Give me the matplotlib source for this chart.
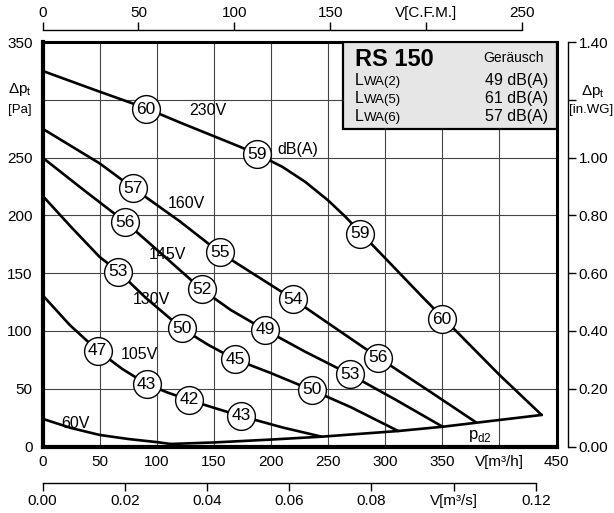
import matplotlib
matplotlib.use('Agg')
import matplotlib.pyplot as plt
from matplotlib.patches import Rectangle

plt.rcParams['font.family'] = ['Liberation Sans', 'DejaVu Sans']
plt.rcParams['mathtext.fontset'] = 'custom'
plt.rcParams['mathtext.rm'] = 'Liberation Sans'

# Kennlinien (V in m3/h, dp in Pa)
v_230 = [0, 25, 50, 70, 91, 120, 150, 170, 188, 210, 230, 250, 265, 278, 300, 333, 350, 400, 437]
p_230 = [325, 316, 307, 300, 292.5, 280.5, 268.5, 260.5, 253, 242, 229, 213, 199, 185.5, 163, 129, 112, 62, 27.3]
v_160 = [0, 50, 79.5, 120, 155, 190, 219.5, 260, 294, 340, 380]
p_160 = [275, 245, 223.5, 195, 168, 146, 127.5, 100, 77, 47, 20.6]
v_145 = [0, 36, 72.8, 105, 139.3, 165, 194.7, 230, 269, 310, 350.3]
p_145 = [250, 222, 194, 166, 136, 118, 101, 82, 62.5, 40, 17.1]
v_130 = [0, 25, 50, 66.4, 90, 121.8, 145, 168.5, 200, 235.6, 270, 311.4]
p_130 = [217, 190, 164, 151.5, 129, 102.3, 88, 75.5, 63.5, 48.9, 34, 13.4]
v_105 = [0, 24, 48.3, 70, 91.2, 110, 128.2, 150, 173.7, 210, 244.4]
p_105 = [131, 105, 83, 67, 54, 46.5, 40.3, 33.5, 26.4, 16.5, 8.5]
v_60 = [0, 25, 50, 75, 100, 112]
p_60 = [24, 16, 10, 6.5, 3.8, 2.2]
v_pd2 = [112, 150, 200, 244.4, 311.4, 350.3, 380, 437]
p_pd2 = [2.2, 3.5, 6, 8.5, 13.4, 17.1, 20.6, 27.3]

# Schallpegel-Kreise dB(A)
db_x = [90.6, 188, 278, 349.6, 79.5, 155.4, 219.5, 294, 72.5, 139.3, 194.7, 269,
        66.4, 121.8, 168.5, 235.6, 48.3, 91.2, 128.2, 173.7]
db_y = [292, 253, 184, 110, 223.5, 168, 127.4, 77, 194, 136, 101, 62.5,
        151.3, 102.3, 75.5, 48.9, 83, 54, 40.3, 26.4]
db_txt = ['60', '59', '59', '60', '57', '55', '54', '56', '56', '52', '49', '53',
          '53', '50', '45', '50', '47', '43', '42', '43']

volt_txt = ['230V', '160V', '145V', '130V', '105V', '60V']
volt_x = [145, 126, 109.4, 95.6, 84.6, 28.7]
volt_y = [291, 210, 166, 127.5, 80, 19.5]

lwa_names = ['(2)', '(5)', '(6)']
lwa_vals = ['49 dB(A)', '61 dB(A)', '57 dB(A)']

x_ticks = [0, 50, 100, 150, 200, 250, 300, 350, 400, 450]
x_labels = ['0', '50', '100', '150', '200', '250', '300', '350', 'V[m³/h]', '450']
y_ticks = [0, 50, 100, 150, 200, 250, 300, 350]
y_labels = ['0', '50', '100', '150', '200', '250', '', '350']
cfm_ticks = [0, 50, 100, 150, 200, 250]
cfm_labels = ['0', '50', '100', '150', 'V[C.F.M.]', '250']
ms_ticks = [0, 0.02, 0.04, 0.06, 0.08, 0.10, 0.12]
ms_labels = ['0.00', '0.02', '0.04', '0.06', '0.08', 'V[m³/s]', '0.12']
wg_ticks = [0, 0.2, 0.4, 0.6, 0.8, 1.0, 1.2, 1.4]
wg_labels = ['0.00', '0.20', '0.40', '0.60', '0.80', '1.00', '', '1.40']

W, H = 614, 513
fig = plt.figure(figsize=(W / 100, H / 100), dpi=100)
L, R, T, B = 42.5, 556.5, 42, 446.5
ax = fig.add_axes([L / W, 1 - B / H, (R - L) / W, (B - T) / H])

ax.set_xlim(0, 450)
ax.set_ylim(0, 350)
ax.set_xticks(x_ticks)
ax.set_xticklabels(x_labels)
ax.set_yticks(y_ticks)
ax.set_yticklabels(y_labels)
ax.tick_params(length=0, labelsize=11, colors='black')
ax.tick_params(axis='x', pad=6)
ax.tick_params(axis='y', pad=7)
ax.grid(True, color='#444444', lw=0.8)
ax.set_axisbelow(True)
ax.spines['left'].set_linewidth(3)
ax.spines['bottom'].set_linewidth(3)
ax.spines['top'].set_linewidth(2.2)
ax.spines['right'].set_linewidth(2.2)

lw = 1.9
for xs, ys in [(v_230, p_230), (v_160, p_160), (v_145, p_145), (v_130, p_130),
               (v_105, p_105), (v_60, p_60), (v_pd2, p_pd2)]:
    ax.plot(xs, ys, color='black', lw=lw, zorder=3, solid_capstyle='round',
            solid_joinstyle='round')

ax.plot(db_x, db_y, 'o', ms=20, mfc='white', mec='black', mew=1.0, zorder=4, ls='none')
for x, y, t in zip(db_x, db_y, db_txt):
    ax.text(x, y, t, ha='center', va='center', fontsize=12.5, zorder=5)

for t, x, y in zip(volt_txt, volt_x, volt_y):
    ax.text(x, y, t, ha='center', va='center', fontsize=11.5, zorder=5)
ax.text(206, 257, 'dB(A)', ha='left', va='center', fontsize=11.5, zorder=5)
ax.text(383, 9, r'p$_{\mathregular{d2}}$', ha='center', va='center', fontsize=12, zorder=5)

# Info-Kasten
ax.add_patch(Rectangle((263, 275), 187, 75, facecolor='#e6e6e6', edgecolor='black',
                       lw=1.6, zorder=6))
ax.text(273.5, 329, 'RS 150', fontsize=17, fontweight='bold', ha='left',
        va='baseline', zorder=7)
ax.text(439, 333, 'Geräusch', fontsize=10, ha='right', va='baseline', zorder=7)
for i, (n, v) in enumerate(zip(lwa_names, lwa_vals)):
    yy = 313 - i * 15.5
    ax.text(273.5, yy, 'L', fontsize=11.5, ha='left', va='baseline', zorder=7)
    ax.text(281.8, yy, 'WA' + n, fontsize=9.5, ha='left', va='baseline', zorder=7)
    ax.text(442.5, yy, v, fontsize=11.5, ha='right', va='baseline', zorder=7)

# obere Achse C.F.M.
top_y = 30
axt = fig.add_axes([L / W, 1 - top_y / H, (R - L) / W, 0.0001])
axt.set_xlim(0, 450 / 1.68)
axt.patch.set_visible(False)
for s in ['left', 'right', 'bottom']:
    axt.spines[s].set_visible(False)
axt.spines['top'].set_bounds(0, 250)
axt.spines['top'].set_linewidth(1.0)
axt.xaxis.tick_top()
axt.set_xticks(cfm_ticks)
axt.set_xticklabels(cfm_labels)
axt.set_yticks([])
axt.tick_params(axis='x', direction='out', length=6, width=1.0, pad=1.5, labelsize=11)

# untere Achse m3/s
bot_y = 482.7
axb = fig.add_axes([L / W, 1 - bot_y / H, (R - L) / W, 0.0001])
axb.set_xlim(0, 450 / 3600)
axb.patch.set_visible(False)
for s in ['left', 'right', 'top']:
    axb.spines[s].set_visible(False)
axb.spines['bottom'].set_bounds(0, 0.12)
axb.spines['bottom'].set_linewidth(1.0)
axb.set_xticks(ms_ticks)
axb.set_xticklabels(ms_labels)
axb.set_yticks([])
axb.tick_params(axis='x', direction='out', length=6, width=1.0, pad=2, labelsize=11)

# rechte Achse in.WG
rx = 567.5
axr = fig.add_axes([(rx - 1) / W, 1 - B / H, 1 / W, (B - T) / H])
axr.set_ylim(0, 1.4)
axr.patch.set_visible(False)
for s in ['left', 'top', 'bottom']:
    axr.spines[s].set_visible(False)
axr.spines['right'].set_linewidth(1.0)
axr.yaxis.tick_right()
axr.set_yticks(wg_ticks)
axr.set_yticklabels(wg_labels)
axr.set_xticks([])
axr.tick_params(axis='y', direction='out', length=6, width=1.0, pad=2, labelsize=11)

# Achsentitel
fig.text(20 / W, 1 - 90 / H, r'$\Delta$p$_{\mathregular{t}}$', ha='center', va='center', fontsize=11)
fig.text(20 / W, 1 - 110 / H, '[Pa]', ha='center', va='center', fontsize=9.5)
fig.text(593 / W, 1 - 92 / H, r'$\Delta$p$_{\mathregular{t}}$', ha='center', va='center', fontsize=11)
fig.text(591 / W, 1 - 110 / H, '[in.WG]', ha='center', va='center', fontsize=9.5)

fig.savefig('out.png', dpi=100)
